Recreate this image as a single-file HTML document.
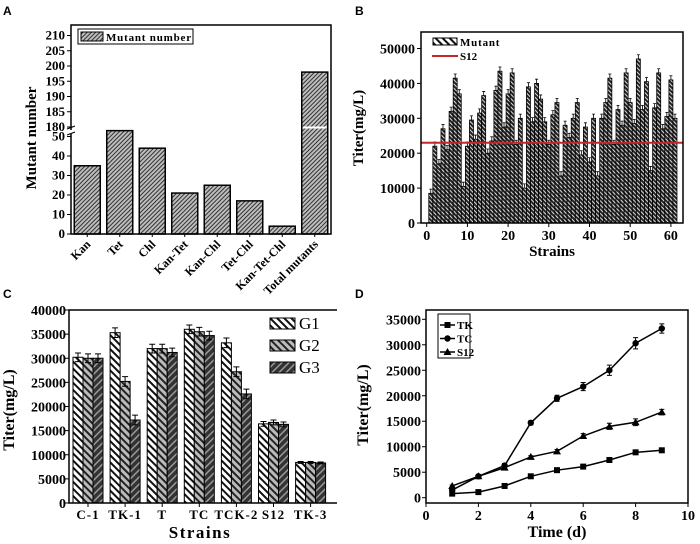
<!DOCTYPE html>
<html><head><meta charset="utf-8">
<style>
html,body{margin:0;padding:0;background:#fff;}
svg{display:block;font-family:"Liberation Serif",serif;}
.pl{font-family:"Liberation Sans",sans-serif;font-weight:bold;font-size:12px;}
.tk{font-weight:bold;font-size:13px;}
.tks{font-weight:bold;font-size:11px;}
.ttl{font-weight:bold;font-size:15px;}
</style></head>
<body>
<svg id="fig" width="700" height="544" viewBox="0 0 700 544" xmlns="http://www.w3.org/2000/svg">
<defs>
<pattern id="pA" patternUnits="userSpaceOnUse" width="3" height="3" patternTransform="rotate(45)"><rect width="3" height="3" fill="#bdbdbd"/><rect width="1" height="3" fill="#333"/></pattern>
<pattern id="pB" patternUnits="userSpaceOnUse" width="3" height="3" patternTransform="rotate(-45)"><rect width="3" height="3" fill="#222"/><rect width="1" height="3" fill="#ddd"/></pattern>
<pattern id="pG1" patternUnits="userSpaceOnUse" width="5" height="5" patternTransform="rotate(-45)"><rect width="5" height="5" fill="#fff"/><rect width="2" height="5" fill="#111"/></pattern>
<pattern id="pG2" patternUnits="userSpaceOnUse" width="5" height="5" patternTransform="rotate(-45)"><rect width="5" height="5" fill="#bbb"/><rect width="2" height="5" fill="#222"/></pattern>
<pattern id="pG3" patternUnits="userSpaceOnUse" width="5" height="5" patternTransform="rotate(45)"><rect width="5" height="5" fill="#333"/><rect width="1.5" height="5" fill="#999"/></pattern>
</defs>
<text class="pl" x="3" y="15">A</text>
<text class="pl" x="355" y="15">B</text>
<text class="pl" x="3" y="298">C</text>
<text class="pl" x="355" y="298">D</text>
<g id="gA"></g>
<g id="gB"></g>
<g id="gC"></g>
<g id="gD"></g>
</svg>
<script>
// Panel A data
const aCats = ["Kan","Tet","Chl","Kan-Tet","Kan-Chl","Tet-Chl","Kan-Tet-Chl","Total mutants"];
const aVals = [35,53,44,21,25,17,4,198];
const aLowTicks = [0,10,20,30,40,50];
const aHighTicks = [180,185,190,195,200,205,210];
// Panel B data
const bVals = [8500,22000,17000,27000,21000,32000,41500,37000,10500,22000,29500,24000,31500,36500,20000,23500,38000,43500,27500,37000,43000,22500,30000,10000,39000,29000,40000,35500,29000,22500,31000,34500,13500,28000,24500,30000,34500,19500,27500,17500,30000,13500,30000,34500,41500,22500,32500,28000,43000,34500,28500,47000,32500,40500,15000,33000,43000,27000,30500,41000,30000];
const bRef = [23000];
const bYTicks = [0,10000,20000,30000,40000,50000];
const bXTicks = [0,10,20,30,40,50,60];
// Panel C data
const cCats = ["C-1","TK-1","T","TC","TCK-2","S12","TK-3"];
const cG1 = [30200,35300,32000,36000,33200,16400,8400];
const cG2 = [30000,25200,32000,35500,27200,16700,8400];
const cG3 = [30000,17200,31200,34700,22600,16300,8300];
const cErr = [900,1000,900,900,1000,500,200];
const cYTicks = [0,5000,10000,15000,20000,25000,30000,35000,40000];
// Panel D data
const dDays = [1,2,3,4,5,6,7,8,9];
const dTK = [800,1100,2300,4200,5400,6100,7400,8900,9300];
const dTC = [1500,4200,6300,14700,19500,21800,25000,30300,33200];
const dS12 = [2300,4200,5900,8000,9100,12100,14000,14800,16800];
const dErr = [300,300,400,400,600,800,1000,1100,900];
const dYTicks = [0,5000,10000,15000,20000,25000,30000,35000];
const dXTicks = [0,2,4,6,8,10];

const NS="http://www.w3.org/2000/svg";
function mk(p,tag,at,txt){const e=document.createElementNS(NS,tag);for(const k in at)e.setAttribute(k,at[k]);if(txt!==undefined)e.textContent=txt;p.appendChild(e);return e;}

// ---------- Panel A ----------
(function(){
const g=document.getElementById('gA');
const L=71,R=331,T=25,B=234;
const yLow=v=>B-v*1.95;
const yHigh=v=>127-(v-180)*3.05;
const step=(R-L)/aCats.length;
const xc=i=>L+step*(i+0.5);
aVals.forEach((v,i)=>{
  const y=v>60?yHigh(v):yLow(v);
  const r=mk(g,'rect',{x:xc(i)-13,y:y,width:26,height:B-y,fill:'url(#pA)',stroke:'#000','stroke-width':1.5});
  
  
  if(v>60){const w=mk(g,'rect',{x:xc(i)-12,y:126.5,width:24,height:2,fill:'#fff'});
    
    }
  const tx=mk(g,'text',{class:'tks',x:xc(i)+4,y:B+11,'text-anchor':'end',transform:`rotate(-45 ${xc(i)+4} ${B+11})`},aCats[i]);
  tx.style.fontSize='12px';
  
  
  mk(g,'line',{x1:xc(i),x2:xc(i),y1:B,y2:B+3,stroke:'#000','stroke-width':1});
});
const fr=mk(g,'path',{d:`M${L} 130 V${T} H${R} V${B} H${L} V134`,fill:'none',stroke:'#000','stroke-width':1.5});


mk(g,'path',{d:`M${L-4} 129 l8 -3 M${L-4} 135 l8 -3`,stroke:'#000','stroke-width':1.2});
aLowTicks.forEach(v=>{const y=yLow(v);mk(g,'line',{x1:L-4,x2:L,y1:y,y2:y,stroke:'#000'});
  const t=mk(g,'text',{class:'tk',x:L-6,y:y+4,'text-anchor':'end'},v);
  
  });
aHighTicks.forEach(v=>{const y=yHigh(v);mk(g,'line',{x1:L-4,x2:L,y1:y,y2:y,stroke:'#000'});
  const t=mk(g,'text',{class:'tk',x:L-6,y:y+4,'text-anchor':'end'},v);
  
  });
const yt=mk(g,'text',{class:'ttl',x:36,y:138,'text-anchor':'middle',transform:'rotate(-90 36 138)'},'Mutant number');


const lg=mk(g,'rect',{x:78,y:29,width:115,height:15,fill:'#fff',stroke:'#000','stroke-width':1});


mk(g,'rect',{x:81,y:32,width:22,height:9,fill:'url(#pA)',stroke:'#000'});
const lt=mk(g,'text',{class:'tks',x:106,y:41,'letter-spacing':'0.8'},'Mutant number');


})();

// ---------- Panel B ----------
(function(){
const g=document.getElementById('gB');
const L=421,R=683,T=32,B=223;
const y=v=>B-v*0.00349;
const x=v=>426.7+v*4.07;
bVals.forEach((v,i)=>{
  const xi=x(i+1);
  const r=mk(g,'rect',{x:xi-2,y:y(v),width:4,height:B-y(v),fill:'url(#pB)',stroke:'#000','stroke-width':0.8});
  
  
  mk(g,'path',{d:`M${xi} ${y(v)} V${y(v+1200)} M${xi-1.5} ${y(v+1200)} H${xi+1.5}`,stroke:'#000','stroke-width':0.8});
});
const rl=mk(g,'line',{x1:L,x2:R,y1:y(bRef[0]),y2:y(bRef[0]),stroke:'#c0282a','stroke-width':2});


const fr=mk(g,'rect',{x:L,y:T,width:R-L,height:B-T,fill:'none',stroke:'#000','stroke-width':1.5});


bYTicks.forEach(v=>{mk(g,'line',{x1:L-4,x2:L,y1:y(v),y2:y(v),stroke:'#000'});
  const t=mk(g,'text',{class:'tk',x:L-6,y:y(v)+5,'text-anchor':'end'},v);
  t.style.fontSize='14px';
  
  });
bXTicks.forEach(v=>{mk(g,'line',{x1:x(v),x2:x(v),y1:B,y2:B+4,stroke:'#000'});
  const t=mk(g,'text',{class:'tk',x:x(v),y:B+17,'text-anchor':'middle'},v);
  t.style.fontSize='14px';
  
  });
const xt=mk(g,'text',{class:'ttl',x:552,y:256,'text-anchor':'middle'},'Strains');


const yt=mk(g,'text',{class:'ttl',x:363,y:128,'text-anchor':'middle',transform:'rotate(-90 363 128)'},'Titer(mg/L)');


mk(g,'rect',{x:433,y:38,width:24,height:7,fill:'url(#pG1)',stroke:'#000'});
const l1=mk(g,'text',{class:'tks',x:460,y:46,'letter-spacing':'0.8'},'Mutant');


mk(g,'line',{x1:432,x2:458,y1:56,y2:56,stroke:'#c0282a','stroke-width':2});
const l2=mk(g,'text',{class:'tks',x:460,y:60},'S12');


})();

// ---------- Panel C ----------
(function(){
const g=document.getElementById('gC');
const L=69,R=337,T=310,B=503;
const y=v=>B-v*0.004825;
const xc=i=>88+i*37.1;
const series=[cG1,cG2,cG3], pats=['url(#pG1)','url(#pG2)','url(#pG3)'];
cCats.forEach((c,i)=>{
  series.forEach((s,k)=>{
    const xb=xc(i)-15+k*10, v=s[i];
    const r=mk(g,'rect',{x:xb,y:y(v),width:10,height:B-y(v),fill:pats[k],stroke:'#000','stroke-width':1});
    
    
    const e=cErr[i];
    mk(g,'path',{d:`M${xb+5} ${y(v-e)} V${y(v+e)} M${xb+2} ${y(v+e)} H${xb+8} M${xb+2} ${y(v-e)} H${xb+8}`,stroke:'#000','stroke-width':1});
  });
  mk(g,'line',{x1:xc(i),x2:xc(i),y1:B,y2:B+4,stroke:'#000'});
  const t=mk(g,'text',{class:'tk',x:xc(i),y:B+16,'text-anchor':'middle','letter-spacing':'1'},c);
  
  
});
const fr=mk(g,'path',{d:`M${R} ${T} H${L} V${B} H${R}`,fill:'none',stroke:'#000','stroke-width':1.5});


cYTicks.forEach(v=>{mk(g,'line',{x1:L-4,x2:L,y1:y(v),y2:y(v),stroke:'#000'});
  const t=mk(g,'text',{class:'tk',x:L-3,y:y(v)+5,'text-anchor':'end'},v);
  t.style.fontSize='14px';
  
  });
const xt=mk(g,'text',{class:'ttl',x:200,y:538,'text-anchor':'middle','letter-spacing':'1.5'},'Strains');
xt.style.fontSize='17px';


const yt=mk(g,'text',{class:'ttl',x:14,y:410,'text-anchor':'middle',transform:'rotate(-90 14 410)'},'Titer(mg/L)');
yt.style.fontSize='16px';


['G1','G2','G3'].forEach((n,k)=>{
  mk(g,'rect',{x:270,y:318+k*22,width:25,height:11,fill:pats[k],stroke:'#000'});
  const t=mk(g,'text',{class:'tk',x:299,y:329+k*22},n);
  t.style.fontSize='17px';t.style.fontWeight='normal';
  
  
});
})();

// ---------- Panel D ----------
(function(){
const g=document.getElementById('gD');
const L=426,R=688,T=310,B=503;
const x=v=>L+v*26.2;
const y=v=>497.7-v*0.005097;
const fr=mk(g,'rect',{x:L,y:T,width:R-L,height:B-T,fill:'none',stroke:'#000','stroke-width':1.5});


const S=[[dTK,'square','tk',0.35],[dTC,'circle','tc',1],[dS12,'triangle','s12',0.6]];
function marker(px,py,type,name){
  let m;
  if(type==='square') m=mk(g,'rect',{x:px-3,y:py-3,width:6,height:6,fill:'#000'});
  else if(type==='circle') m=mk(g,'circle',{cx:px,cy:py,r:3.2,fill:'#000'});
  else m=mk(g,'path',{d:`M${px} ${py-4} L${px+4} ${py+3} L${px-4} ${py+3}Z`,fill:'#000'});
  
  
}
S.forEach(([arr,type,nm,sc])=>{
  const ln=mk(g,'polyline',{points:arr.map((v,i)=>x(dDays[i])+','+y(v)).join(' '),fill:'none',stroke:'#000','stroke-width':1.5});
  
  
  arr.forEach((v,i)=>{
    const e=dErr[i]*sc, px=x(dDays[i]);
    mk(g,'path',{d:`M${px} ${y(v-e)} V${y(v+e)} M${px-2.5} ${y(v+e)} H${px+2.5} M${px-2.5} ${y(v-e)} H${px+2.5}`,stroke:'#000','stroke-width':1});
    marker(px,y(v),type,'point-'+nm);
  });
});
dYTicks.forEach(v=>{mk(g,'line',{x1:L-4,x2:L,y1:y(v),y2:y(v),stroke:'#000'});
  const t=mk(g,'text',{class:'tk',x:L-5,y:y(v)+5,'text-anchor':'end'},v);
  t.style.fontSize='14px';
  
  });
dXTicks.forEach(v=>{mk(g,'line',{x1:x(v),x2:x(v),y1:B,y2:B+4,stroke:'#000'});
  const t=mk(g,'text',{class:'tk',x:x(v),y:B+17,'text-anchor':'middle'},v);
  t.style.fontSize='14px';
  
  });
const xt=mk(g,'text',{class:'ttl',x:557,y:537,'text-anchor':'middle'},'Time (d)');
xt.style.fontSize='16px';


const yt=mk(g,'text',{class:'ttl',x:368,y:405,'text-anchor':'middle',transform:'rotate(-90 368 405)'},'Titer(mg/L)');
yt.style.fontSize='16px';


const lb=mk(g,'rect',{x:438,y:314,width:32,height:44,fill:'#fff',stroke:'#000'});


[['TK','square'],['TC','circle'],['S12','triangle']].forEach(([n,t],k)=>{
  const yy=325+k*13.5;
  mk(g,'line',{x1:440,x2:455,y1:yy,y2:yy,stroke:'#000','stroke-width':1.5});
  marker(447.5,yy,t,'legend-marker-'+n.toLowerCase());
  const tx=mk(g,'text',{class:'tks',x:457,y:yy+4},n);
  
  
});
})();
</script>
</body></html>
